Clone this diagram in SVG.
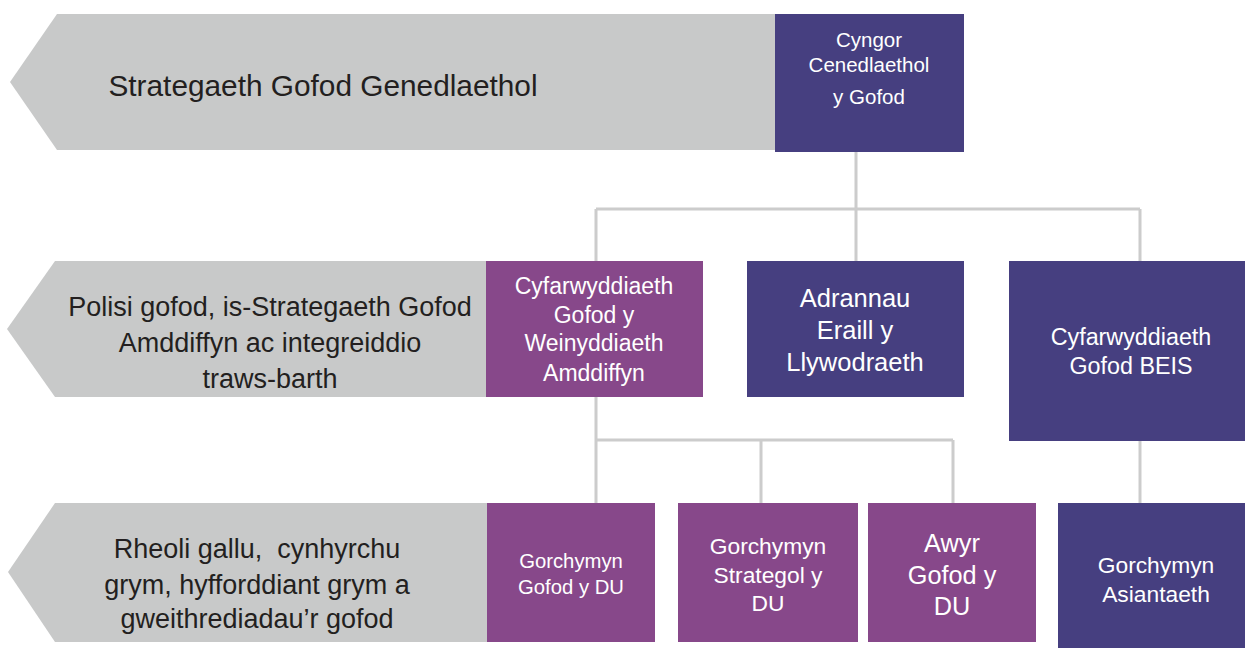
<svg xmlns="http://www.w3.org/2000/svg" width="1245" height="648" viewBox="0 0 1245 648">
<style>
.band{fill:#c8c9c9}
.dk{fill:#463f80}
.mg{fill:#87488a}
.lt{font-family:"Liberation Sans","Open Sans",Arial,sans-serif;fill:#231f20;text-anchor:middle;white-space:pre}
.wt{font-family:"Liberation Sans","Open Sans",Arial,sans-serif;fill:#ffffff;text-anchor:middle}
.ln{stroke:#cccccc;stroke-width:3;fill:none}
</style>
<rect width="1245" height="648" fill="#ffffff"/>
<g id="connectors">
<path class="ln" d="M856 152 V209 M596 209 H1140 M596 209 V261 M856 209 V261 M1140 209 V261"/>
<path class="ln" d="M596 397 V440 M596 440 H953 M596 440 V503 M761 440 V503 M953 440 V503"/>
<path class="ln" d="M1140 441 V503"/>
</g>
<g id="band1">
<polygon class="band" points="57,14 776,14 776,150 57,150 10,82"/>
<text class="lt" x="323" y="96" font-size="29.8">Strategaeth Gofod Genedlaethol</text>
</g>
<g id="band2">
<polygon class="band" points="55,261 487,261 487,397 55,397 7,329"/>
<text class="lt" font-size="27"><tspan x="270" y="316">Polisi gofod, is-Strategaeth Gofod</tspan><tspan x="270" y="352">Amddiffyn ac integreiddio</tspan><tspan x="270" y="388">traws-barth</tspan></text>
</g>
<g id="band3">
<polygon class="band" points="55,503 488,503 488,642 55,642 8,572"/>
<text class="lt" font-size="27" xml:space="preserve"><tspan x="257" y="558">Rheoli gallu,  cynhyrchu</tspan><tspan x="257" y="594">grym, hyfforddiant grym a</tspan><tspan x="257" y="628">gweithrediadau’r gofod</tspan></text>
</g>
<g id="node-cyngor">
<rect class="dk" x="775" y="14" width="189" height="138"/>
<text class="wt" font-size="20.5"><tspan x="869" y="47">Cyngor</tspan><tspan x="869" y="72">Cenedlaethol</tspan><tspan x="869" y="104">y Gofod</tspan></text>
</g>
<g id="node-cyfarwyddiaeth-amddiffyn">
<rect class="mg" x="486" y="261" width="217" height="136"/>
<text class="wt" font-size="23"><tspan x="594" y="294">Cyfarwyddiaeth</tspan><tspan x="594" y="323">Gofod y</tspan><tspan x="594" y="351">Weinyddiaeth</tspan><tspan x="594" y="381">Amddiffyn</tspan></text>
</g>
<g id="node-adrannau">
<rect class="dk" x="747" y="261" width="217" height="136"/>
<text class="wt" font-size="25.5"><tspan x="855" y="307">Adrannau</tspan><tspan x="855" y="339">Eraill y</tspan><tspan x="855" y="371">Llywodraeth</tspan></text>
</g>
<g id="node-beis">
<rect class="dk" x="1009" y="261" width="236" height="180"/>
<text class="wt" font-size="23.3"><tspan x="1131" y="345">Cyfarwyddiaeth</tspan><tspan x="1131" y="374">Gofod BEIS</tspan></text>
</g>
<g id="node-gofod-du">
<rect class="mg" x="487" y="503" width="168" height="139"/>
<text class="wt" font-size="20.3"><tspan x="571" y="568">Gorchymyn</tspan><tspan x="571" y="594">Gofod y DU</tspan></text>
</g>
<g id="node-strategol">
<rect class="mg" x="678" y="503" width="180" height="139"/>
<text class="wt" font-size="22.8"><tspan x="768" y="554">Gorchymyn</tspan><tspan x="768" y="583">Strategol y</tspan><tspan x="768" y="611">DU</tspan></text>
</g>
<g id="node-awyr">
<rect class="mg" x="868" y="503" width="168" height="139"/>
<text class="wt" font-size="25.3"><tspan x="952" y="552">Awyr</tspan><tspan x="952" y="584">Gofod y</tspan><tspan x="952" y="615">DU</tspan></text>
</g>
<g id="node-asiantaeth">
<rect class="dk" x="1058" y="503" width="187" height="145"/>
<text class="wt" font-size="22.8"><tspan x="1156" y="573">Gorchymyn</tspan><tspan x="1156" y="602">Asiantaeth</tspan></text>
</g>
</svg>
